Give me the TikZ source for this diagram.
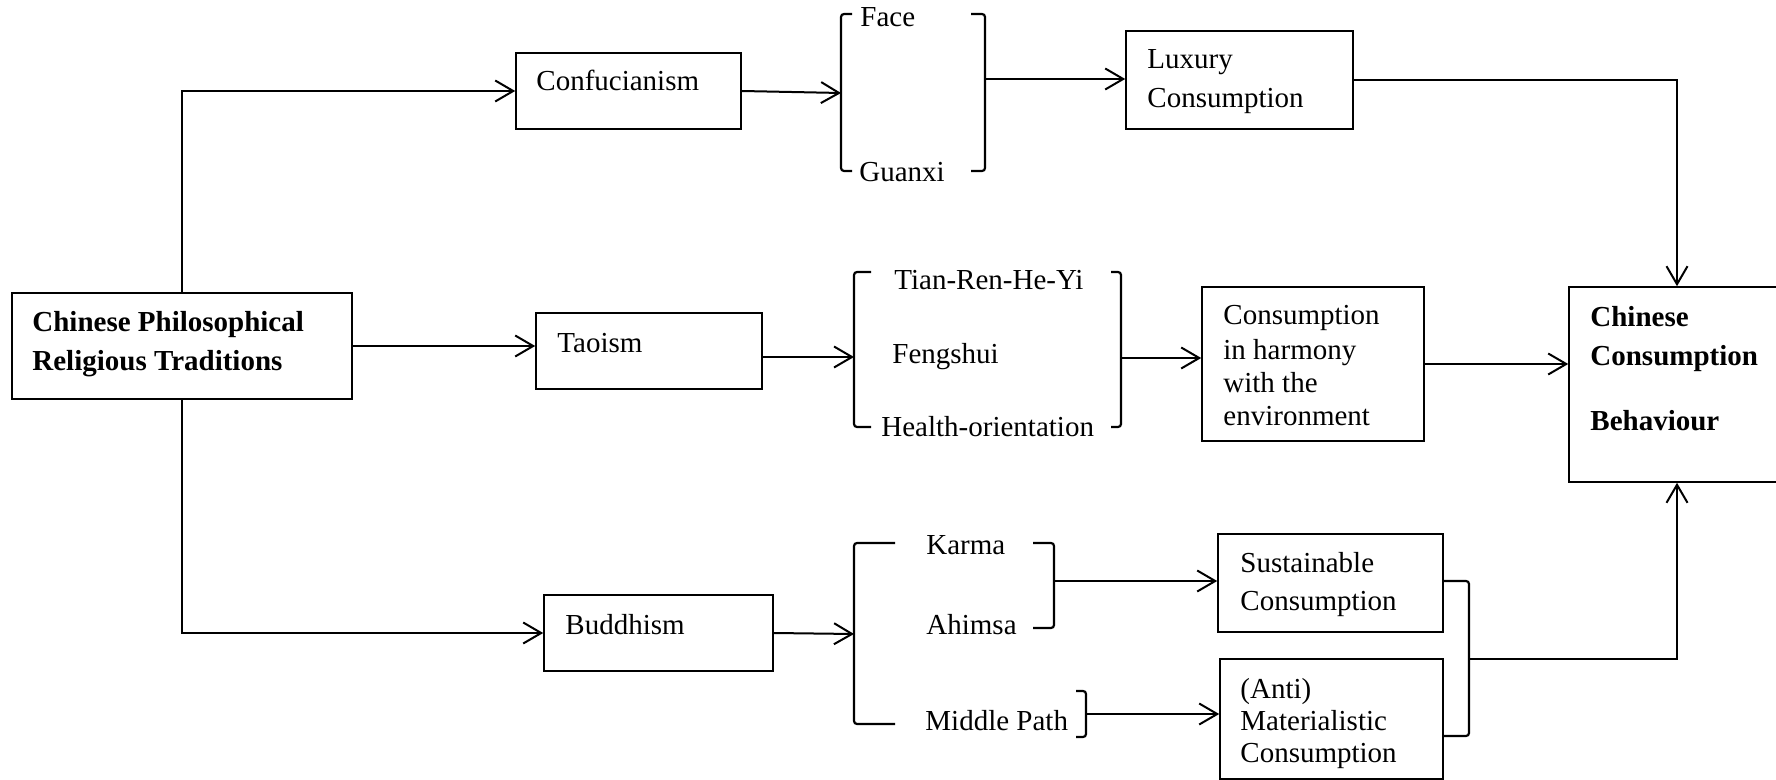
\documentclass[tikz,border=0pt]{standalone}
\usepackage{fontspec}
\setmainfont{Liberation Serif}
\usetikzlibrary{arrows.meta,fit,calc}
\begin{document}
\begin{tikzpicture}[x=0.5pt,y=-0.5pt,
  box/.style={draw, line width=0.8pt, inner sep=0pt},
  lbl/.style={anchor=base west, inner sep=0pt, font=\fontsize{14.5}{17}\selectfont},
  blbl/.style={anchor=base west, inner sep=0pt, font=\fontsize{14.5}{17}\selectfont\bfseries},
  arr/.style={line width=1pt, -{Straight Barb[length=9pt,width=10.5pt]}},
  brk/.style={line width=1.1pt, rounded corners=1.5pt}]
\useasboundingbox (0,0) rectangle (1776,780);

% boxes
\node[box, fit={(12,293)(352,399)}] (trad) {};
\node[box, fit={(516,53)(741,129)}] (conf) {};
\node[box, fit={(536,313)(762,389)}] (tao) {};
\node[box, fit={(544,595)(773,671)}] (bud) {};
\node[box, fit={(1126,31)(1353,129)}] (lux) {};
\node[box, fit={(1202,287)(1424,441)}] (harm) {};
\node[box, fit={(1218,534)(1443,632)}] (sus) {};
\node[box, fit={(1220,659)(1443,779)}] (anti) {};
\node[box, fit={(1569,287)(1785,482)}] (ccb) {};

% box texts
\node[blbl] (tradA) at (32,332) {Chinese Philosophical};
\node[blbl] (tradB) at (32,371) {Religious Traditions};
\node[lbl] (confT) at (536,91) {Confucianism};
\node[lbl] (taoT) at (557,353) {Taoism};
\node[lbl] (budT) at (565,634) {Buddhism};
\node[lbl] (luxA) at (1147,69) {Luxury};
\node[lbl] (luxB) at (1147,108) {Consumption};
\node[lbl] (harmA) at (1223,325) {Consumption};
\node[lbl] (harmB) at (1223,359) {in harmony};
\node[lbl] (harmC) at (1223,393) {with the};
\node[lbl] (harmD) at (1223,425) {environment};
\node[lbl] (susA) at (1240,572) {Sustainable};
\node[lbl] (susB) at (1240,610) {Consumption};
\node[lbl] (antiA) at (1240,698) {(Anti)};
\node[lbl] (antiB) at (1240,730) {Materialistic};
\node[lbl] (antiC) at (1240,762) {Consumption};
\node[blbl] (ccbA) at (1590,327) {Chinese};
\node[blbl] (ccbB) at (1590,365) {Consumption};
\node[blbl] (ccbC) at (1590,430) {Behaviour};

% bracketed concepts
\node[lbl] (face) at (860,27) {Face};
\node[lbl] (guanxi) at (859,182) {Guanxi};
\node[lbl] (tian) at (894,290) {Tian-Ren-He-Yi};
\node[lbl] (feng) at (892,364) {Fengshui};
\node[lbl] (health) at (881,436) {Health-orientation};
\node[lbl] (karma) at (926,554) {Karma};
\node[lbl] (ahimsa) at (926,634) {Ahimsa};
\node[lbl] (mpath) at (925,730) {Middle Path};

% brackets
\draw[brk] (852,14) -- (841,14) -- (841,171) -- (852,171);
\draw[brk] (971,14) -- (985,14) -- (985,171) -- (971,171);
\draw[brk] (871,272) -- (854,272) -- (854,427) -- (871,427);
\draw[brk] (1111,272) -- (1121,272) -- (1121,427) -- (1111,427);
\draw[brk] (895,543) -- (854,543) -- (854,724) -- (895,724);
\draw[brk] (1033,543) -- (1054,543) -- (1054,628) -- (1033,628);
\draw[brk] (1076,691) -- (1086,691) -- (1086,737) -- (1076,737);
\draw[brk] (1443,581) -- (1469,581) -- (1469,736) -- (1443,736);

% bracket attachment points
\coordinate (fL) at (841,93);
\coordinate (fR) at (985,79);
\coordinate (tL) at (854,357);
\coordinate (tR) at (1121,358);
\coordinate (bL) at (854,634);
\coordinate (kR) at (1054,581);
\coordinate (mR) at (1086,714);
\coordinate (jR) at (1469,659);

% connectors
\draw[arr] (trad.north) |- (conf.west);
\draw[arr] (trad.east) -- (trad.east -| tao.west);
\draw[arr] (trad.south) |- (bud.west);
\draw[arr] (conf.east) -- (fL);
\draw[arr] (fR) -- (fR -| lux.west);
\draw[arr] (lux.east) -| (ccb.north);
\draw[arr] (tL -| tao.east) -- (tL);
\draw[arr] (tR) -- (tR -| harm.west);
\draw[arr] (harm.east) -- (harm.east -| ccb.west);
\draw[arr] (bud.east) -- (bL);
\draw[arr] (kR) -- (kR -| sus.west);
\draw[arr] (mR) -- (mR -| anti.west);
\draw[arr] (jR) -| (ccb.south);
\end{tikzpicture}
\end{document}
